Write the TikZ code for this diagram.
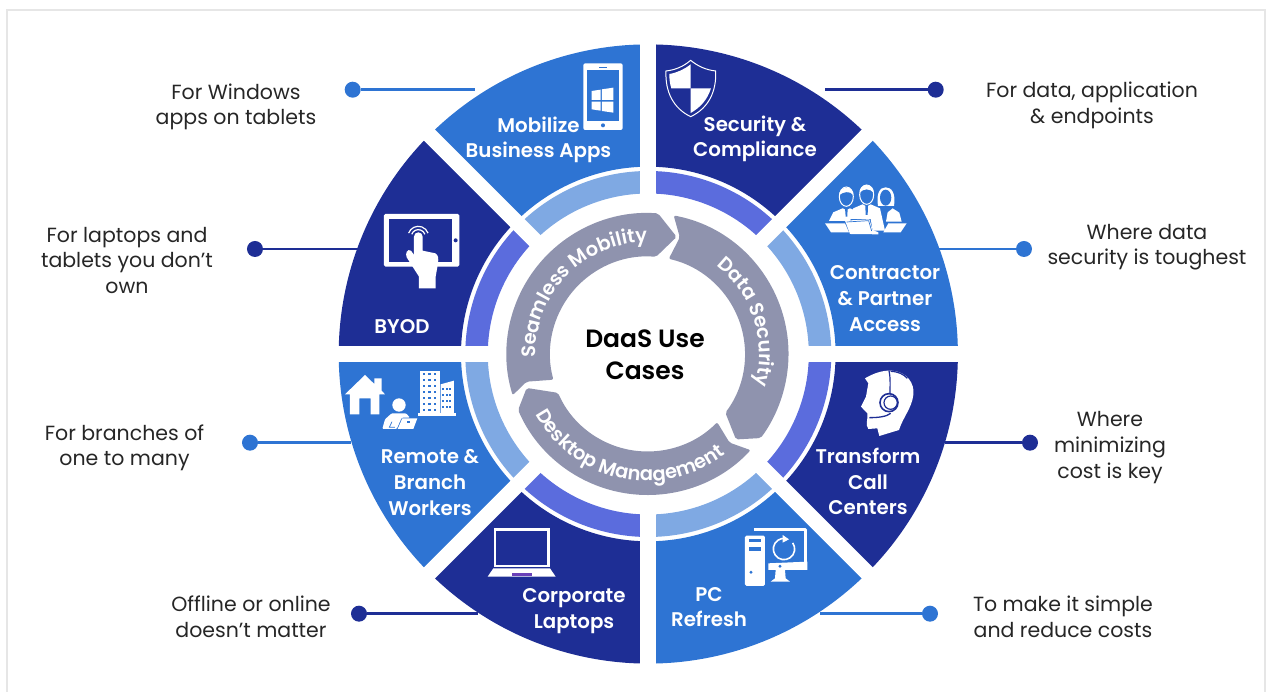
\documentclass[tikz,border=0pt]{standalone}
\usepackage{fontspec}
\setmainfont{Poppins}
\newfontfamily\heavyfont{Poppins SemiBold}
\usetikzlibrary{arrows.meta, decorations.text}
\definecolor{navyband}{HTML}{1E2E95}
\definecolor{blueband}{HTML}{2E74D3}
\definecolor{navyring}{HTML}{5B6CDD}
\definecolor{bluering}{HTML}{7FA9E3}
\definecolor{greyring}{HTML}{8F93AE}
\definecolor{framegrey}{HTML}{E6E6E6}
\tikzset{
  px/.style={shift={(-648.3,354)},y=-1pt},
  cropA/.style={shift={(-318.3,334)},x=0.33333pt,y=-0.33333pt},
  cropB/.style={shift={(1.7,334)},x=0.33333pt,y=-0.33333pt},
  cropC/.style={shift={(-318.3,4)},x=0.33333pt,y=-0.33333pt},
  cropD/.style={shift={(1.7,4)},x=0.33333pt,y=-0.33333pt},
  wheeltext/.style={text=white,align=center,font=\fontsize{19.8}{25.6}\selectfont\heavyfont},
  sidetext/.style={text=black!85,align=center,font=\fontsize{20.5}{25.6}\selectfont},
  dotnode/.style={circle,inner sep=0pt,minimum size=16pt,fill=#1},
  leader/.style={draw=#1,line width=2.4pt}
}
\begin{document}
\begin{tikzpicture}[x=1pt,y=1pt]
\useasboundingbox (-648.3,-338) rectangle (621.7,354);

% frame
\draw[framegrey,line width=2pt,px] (7,692) -- (7,10.5) -- (1265,10.5) -- (1265,692);

% bands and rings
\foreach \a/\bandcol/\ringcol in {45/navyband/navyring,0/blueband/bluering,-45/navyband/navyring,-90/blueband/bluering,-135/navyband/navyring,180/blueband/bluering,135/navyband/navyring,90/blueband/bluering}{
  \pgfmathsetmacro{\b}{\a+45}
  \fill[\bandcol] (\a:309.6) arc[start angle=\a,end angle=\b,radius=309.6] -- (\b:187.3) arc[start angle=\b,end angle=\a,radius=187.3] -- cycle;
  \fill[\ringcol] (\a:183) arc[start angle=\a,end angle=\b,radius=183] -- (\b:160.5) arc[start angle=\b,end angle=\a,radius=160.5] -- cycle;
}
% gaps between the bands
\foreach \a in {0,45,...,315}{
  \draw[white,line width=15.6pt] (\a:150) -- (\a:320);
}

% grey arrows
\begin{scope}[shift={(-0.8,0)},rounded corners=2pt]
\fill[greyring] (197:141) arc[start angle=197,end angle=85.7,radius=141] -- (76:120.7) -- (85:97.5) arc[start angle=85,end angle=195.3,radius=97.5] -- (192.9:124) -- cycle;
\fill[greyring] (79.3:141) arc[start angle=79.3,end angle=-36.6,radius=141] -- (-44:123) -- (-37:97.5) arc[start angle=-37,end angle=77.4,radius=97.5] -- (74.5:121) -- cycle;
\fill[greyring] (-43:141) arc[start angle=-43,end angle=-156.6,radius=141] -- (195.7:125.5) -- (203.5:97.5) arc[start angle=203.5,end angle=315.6,radius=97.5] -- (-47.2:120.8) -- cycle;
\path[decorate,decoration={text along path,text align=center,text={|\fontsize{19.5}{19.5}\selectfont\heavyfont\color{white}|Seamless Mobility}}] (187:112) arc[start angle=187,end angle=85,radius=112];
\path[decorate,decoration={text along path,text align=center,text={|\fontsize{19.5}{19.5}\selectfont\heavyfont\color{white}|Data Security}}] (56:112) arc[start angle=56,end angle=-20,radius=112];
\path[decorate,decoration={text along path,text align=center,text={|\fontsize{19.5}{19.5}\selectfont\heavyfont\color{white}|Desktop Management}}] (203:127) arc[start angle=203,end angle=313,radius=127];
\end{scope}

% texts
\begin{scope}[px]
\node[wheeltext] (mobilize) at (538.5,140) {Mobilize\\Business Apps};
\node[wheeltext] (security) at (755,139) {Security \&\\Compliance};
\node[wheeltext] (contractor) at (885,298.5) {Contractor\\\& Partner\\Access};
\node[wheeltext] (byod) at (402,327) {BYOD};
\node[wheeltext] (remote) at (430,482.5) {Remote \&\\Branch\\Workers};
\node[wheeltext] (transform) at (868,481.5) {Transform\\Call\\Centers};
\node[wheeltext] (corporate) at (574,611) {Corporate\\Laptops};
\node[wheeltext] (refresh) at (709,607) {PC\\Refresh};
\node[align=center,font=\fontsize{25}{32}\selectfont\heavyfont] (daas) at (645,354.5) {DaaS Use\\Cases};

\node[sidetext] (forwindows) at (236,107) {For Windows\\apps on tablets};
\node[sidetext] (forlaptops) at (127,260.5) {For laptops and\\tablets you don’t\\own};
\node[sidetext] (forbranches) at (124.5,448) {For branches of\\one to many};
\node[sidetext] (offline) at (251,617) {Offline or online\\doesn’t matter};
\node[sidetext] (fordata) at (1092,105.5) {For data, application\\\& endpoints};
\node[sidetext] (wheredata) at (1147,247) {Where data\\security is toughest};
\node[sidetext] (wherecost) at (1110,447.5) {Where\\minimizing\\cost is key};
\node[sidetext] (simple) at (1063,617) {To make it simple\\and reduce costs};

% leaders
\node[dotnode=blueband] (dotmobilize) at (352.7,89.7) {};
\coordinate (endmobilize) at (475,89.7);
\draw[leader=blueband] (dotmobilize) -- (endmobilize);
\node[dotnode=navyband] (dotsecurity) at (935.7,89.7) {};
\coordinate (endsecurity) at (825,89.7);
\draw[leader=navyband] (dotsecurity) -- (endsecurity);
\node[dotnode=navyband] (dotbyod) at (255,249) {};
\coordinate (endbyod) at (358,249);
\draw[leader=navyband] (dotbyod) -- (endbyod);
\node[dotnode=blueband] (dotcontractor) at (1024,249) {};
\coordinate (endcontractor) at (939,249);
\draw[leader=blueband] (dotcontractor) -- (endcontractor);
\node[dotnode=blueband] (dotremote) at (250,442.7) {};
\coordinate (endremote) at (351,442.7);
\draw[leader=blueband] (dotremote) -- (endremote);
\node[dotnode=navyband] (dottransform) at (1030,442.7) {};
\coordinate (endtransform) at (945,442.7);
\draw[leader=navyband] (dottransform) -- (endtransform);
\node[dotnode=navyband] (dotcorporate) at (359,613.7) {};
\coordinate (endcorporate) at (478,613.7);
\draw[leader=navyband] (dotcorporate) -- (endcorporate);
\node[dotnode=blueband] (dotrefresh) at (930,613.7) {};
\coordinate (endrefresh) at (820,613.7);
\draw[leader=blueband] (dotrefresh) -- (endrefresh);
\end{scope}

% phone
\begin{scope}[cropA]
\fill[white,rounded corners=2pt] (760,130) rectangle (878,330);
\fill[blueband] (772,150) rectangle (866,302);
\fill[blueband] (808,141) rectangle (830,145);
\fill[blueband] (819,316) circle (6);
\fill[white] (785,213) -- (812,209) -- (812,240) -- (785,240) -- cycle;
\fill[white] (816,208) -- (850,203) -- (850,240) -- (816,240) -- cycle;
\fill[white] (785,245) -- (812,245) -- (812,272) -- (785,268) -- cycle;
\fill[white] (816,245) -- (850,245) -- (850,278) -- (816,273) -- cycle;
\end{scope}

% tablet with hand
\begin{scope}[cropA]
\fill[white,rounded corners=1.5pt] (162,582) rectangle (388,740);
\fill[navyband] (177,597) rectangle (365,725);
\fill[navyband] (377,661) circle (6);
\fill[white] (252,650) arc[start angle=180,end angle=360,radius=13] -- (278,692) -- (316,700) .. controls (325,705) and (326,715) .. (324,730) -- (317,770) -- (317,805) -- (267,805) -- (267,770) -- (230,712) .. controls (225,700) and (232,685) .. (243,692) -- (252,705) -- cycle;
\draw[white,line width=1.2pt] (265,650) ++(-160:21) arc[start angle=-160,end angle=-20,radius=21];
\draw[white,line width=1.2pt] (265,650) ++(-160:31) arc[start angle=-160,end angle=-20,radius=31];
\end{scope}

% shield
\begin{scope}[cropB]
\draw[white,line width=1pt] (122,121) .. controls (145,140) and (170,150) .. (197,153) .. controls (200,215) and (175,265) .. (122,290) .. controls (70,265) and (45,215) .. (48,153) .. controls (75,150) and (100,140) .. (122,121) -- cycle;
\fill[white] (122,133) -- (122,205) -- (64,205) .. controls (59,190) and (58,175) .. (58,162) .. controls (82,158) and (103,148) .. (122,133) -- cycle;
\fill[white] (122,205) -- (183,205) .. controls (172,240) and (150,263) .. (122,279) -- cycle;
\end{scope}

% contractors
\begin{scope}[cropB]
\draw[white,line width=1pt] (589,530) ellipse [x radius=21,y radius=29];
\draw[white,line width=1pt] (650,524) ellipse [x radius=21,y radius=29];
\fill[white] (568,525) .. controls (566,500) and (610,492) .. (610,525) .. controls (600,512) and (580,515) .. (568,525) -- cycle;
\fill[white] (629,518) .. controls (627,488) and (673,488) .. (671,518) .. controls (660,505) and (640,505) .. (629,518) -- cycle;
\fill[white] (684,558) .. controls (678,520) and (690,502) .. (707,502) .. controls (725,502) and (738,520) .. (732,558) -- cycle;
\fill[blueband] (707,533) ellipse [x radius=17,y radius=24];
\fill[white] (537,603) -- (550,577) -- (578,565) -- (589,570) -- (600,565) -- (612,570) -- (600,603) -- cycle;
\fill[white] (598,597) -- (610,565) -- (638,553) -- (650,560) -- (662,553) -- (690,565) -- (705,632) -- (668,632) -- (662,597) -- cycle;
\fill[white] (708,605) -- (713,577) -- (728,565) -- (748,578) -- (755,605) -- cycle;
\fill[blueband] (585,563) -- (593,563) -- (592,590) -- (587,590) -- cycle;
\fill[blueband] (646,556) -- (654,556) -- (653,585) -- (647,585) -- cycle;
\fill[white] (525,610) -- (585,610) -- (597,637) -- (543,637) -- cycle;
\fill[white] (585,602) -- (658,598) -- (668,630) -- (685,637) -- (685,643) -- (600,642) -- cycle;
\draw[blueband,line width=.7pt] (590,606) -- (656,602) -- (665,633);
\fill[white] (700,637) -- (715,610) -- (770,610) -- (752,637) -- cycle;
\end{scope}

% house, worker and buildings
\begin{scope}[cropC]
\fill[white] (45,133) -- (105,75) -- (133,102) -- (133,85) -- (155,85) -- (155,122) -- (165,133) -- (148,133) -- (148,193) -- (122,193) -- (122,145) -- (88,145) -- (88,193) -- (60,193) -- (60,133) -- cycle;
\fill[white] (207,165) circle (20);
\fill[white,rounded corners=1pt] (157,237) -- (165,208) -- (185,190) -- (228,190) -- (240,203) -- (215,203) -- (200,237) -- cycle;
\fill[white] (217,205) -- (262,205) -- (250,237) -- (203,237) -- cycle;
\fill[blueband] (232,212) rectangle (240,218);
\draw[blueband,line width=.7pt] (186,215) -- (178,232) -- (195,232);
\fill[white] (270,62) rectangle (330,190);
\fill[white] (332,103) -- (372,92) -- (372,190) -- (332,190) -- cycle;
\fill[white] (265,190) rectangle (378,197);
\foreach \wx in {282,298,314}{
  \foreach \wy in {72,90,108,126,144,162,180}{
    \fill[blueband] (\wx-3,\wy-4) rectangle (\wx+4,\wy+4);
  }
}
\foreach \wx in {340,351,361}{
  \foreach \wy in {117,135,153,171}{
    \fill[blueband] (\wx-2.5,\wy-4) rectangle (\wx+3,\wy+4);
  }
}
\end{scope}

% laptop
\begin{scope}[cropC]
\draw[white,line width=2.6pt] (495,538) rectangle (656,648);
\fill[white] (490,655) -- (660,655) -- (677,680) -- (473,680) -- cycle;
\fill[navyring!60!violet] (547,670) -- (605,670) -- (605,678) -- (547,678) -- cycle;
\end{scope}

% agent with headset
\begin{scope}[cropD]
\fill[white] (645,85) .. controls (670,70) and (700,60) .. (725,62) .. controls (770,65) and (795,100) .. (790,135) .. controls (785,175) and (760,200) .. (747,240) -- (688,258) -- (682,235) -- (655,237) .. controls (645,225) and (655,205) .. (652,190) -- (633,170) -- (648,140) -- (655,100) -- cycle;
\draw[navyband,line width=1.2pt] (717,62) .. controls (722,85) and (720,110) .. (720,130);
\draw[navyband,line width=1.2pt] (722,64) .. controls (745,65) and (760,72) .. (772,85);
\draw[navyband,line width=1.6pt] (717,158) circle (27);
\draw[navyband,line width=1.2pt] (722,158) circle (20);
\draw[navyband,line width=1.3pt] (722,190) .. controls (710,200) and (685,203) .. (658,203);
\end{scope}

% desktop and refresh
\begin{scope}[cropD]
\fill[white,rounded corners=1.5pt] (285,557) rectangle (345,708);
\fill[blueband] (298,568) rectangle (332,576);
\fill[blueband] (298,590) rectangle (332,602);
\fill[blueband] (303,667) circle (5);
\draw[white,line width=2.6pt,line join=round] (312,539) -- (467,539) -- (467,650);
\fill[white] (355,640) -- (472,635) -- (472,660) -- (355,660) -- cycle;
\fill[blueband] (390,649) circle (5);
\fill[white] (377,660) -- (405,660) -- (407,685) -- (420,695) -- (362,695) -- (375,685) -- cycle;
\draw[white,line width=1.6pt] (402,597) ++(-35:32) arc[start angle=-35,end angle=280,radius=32];
\fill[white] (398,555) -- (417,568) -- (398,578) -- cycle;
\end{scope}
\end{tikzpicture}
\end{document}
